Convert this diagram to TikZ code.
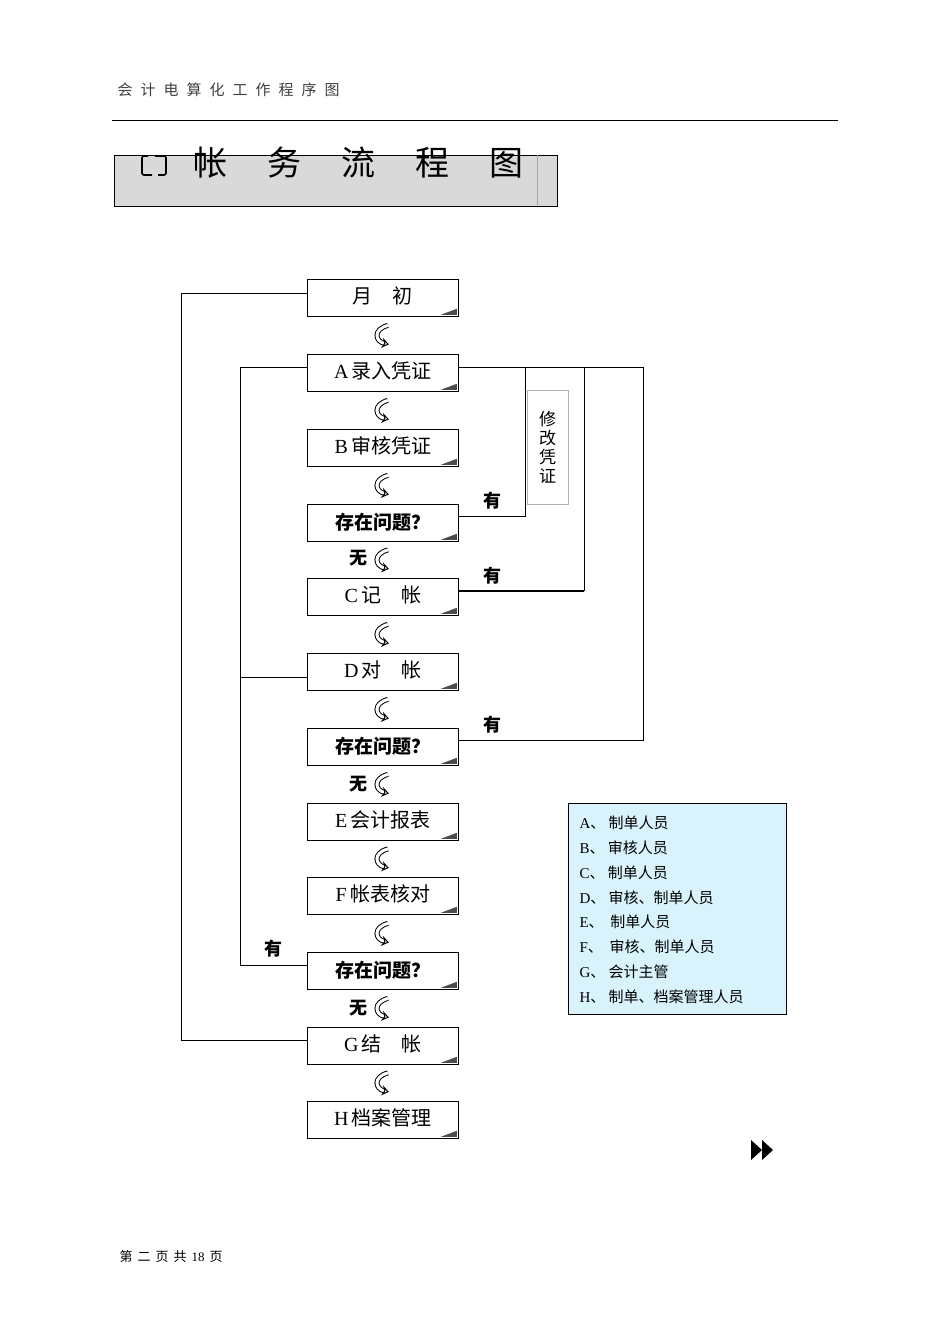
\documentclass[tikz,border=0pt]{standalone}
\usepackage{fontspec}
\setmainfont{Liberation Serif}
\newfontfamily\cjk{Noto Sans CJK SC}
\usetikzlibrary{arrows.meta}
\begin{document}
\begin{tikzpicture}[x=1pt,y=-1pt,
  box/.style={draw,thick,minimum width=151pt,minimum height=37pt,inner sep=0pt,anchor=north west},
  lab/.style={font=\cjk\bfseries\fontsize{18}{18}\selectfont},
  leg/.style={font=\cjk\fontsize{15}{15}\selectfont,anchor=west}]
\useasboundingbox (0,0) rectangle (950,1344);
\node[anchor=west,font=\cjk\fontsize{15}{15}\selectfont,text=black!75] (hdr) at (114,90) {会\hspace{8pt}计\hspace{8pt}电\hspace{8pt}算\hspace{8pt}化\hspace{8pt}工\hspace{8pt}作\hspace{8pt}程\hspace{8pt}序\hspace{8pt}图};
\draw (112,120) -- (838,120);
\node[draw,fill=black!15,minimum width=443pt,minimum height=51pt,anchor=north west] (tb) at (114,155) {};
\draw[black!35] (537,155) -- (537,206);
\draw[line width=1.6pt,rounded corners=2pt] (148,156) -- (142,156) -- (142,175) -- (152,175);
\draw[line width=1.6pt,rounded corners=2pt] (158,175) -- (166,175) -- (166,156) -- (155,156);
\node[anchor=west,font=\cjk\fontsize{34}{34}\selectfont] (tt) at (190,163) {帐\hspace{40pt}务\hspace{40pt}流\hspace{40pt}程\hspace{40pt}图};
% nodes
\foreach \n/\y/\t/\f in {m/279/{月\quad 初}/0, a/354/{{\rmfamily A}\,录入凭证}/0, b/429/{{\rmfamily B}\,审核凭证}/0, q1/504/{存在问题？}/1, c/578/{{\rmfamily C}\,记\quad 帐}/0, d/653/{{\rmfamily D}\,对\quad 帐}/0, q2/728/{存在问题？}/1, e/803/{{\rmfamily E}\,会计报表}/0, f/877/{{\rmfamily F}\,帐表核对}/0, q3/952/{存在问题？}/1, g/1027/{{\rmfamily G}\,结\quad 帐}/0, h/1101/{{\rmfamily H}\,档案管理}/0}{
  \ifnum\f=1
   \node[box,font=\cjk\bfseries\fontsize{19}{19}\selectfont] (\n) at (307,\y) {\raisebox{4pt}{\t}};
  \else
   \node[box,font=\cjk\fontsize{20}{20}\selectfont] (\n) at (307,\y) {\raisebox{5pt}{\t}};
  \fi
  \fill[black!70] ([shift={(-18,-2)}]\n.south east) -- ([shift={(-2,-8)}]\n.south east) -- ([shift={(-2,-2)}]\n.south east) -- cycle;
}
% curved arrows
\foreach \u/\v in {m/a,a/b,b/q1,q1/c,c/d,d/q2,q2/e,e/f,f/q3,q3/g,g/h}{
  \path (\u.south) -- (\v.north) coordinate[pos=0.5] (mid\u);
  \draw[double,double distance=3pt,line width=1pt,-{Stealth[open,length=7pt,width=10pt]}] ([shift={(5,-10)}]mid\u) .. controls ([shift={(-10,-6)}]mid\u) and ([shift={(-8,6)}]mid\u) .. ([shift={(6,9)}]mid\u);
}
\node[lab] (w1) at (358,558) {无};
\node[lab] (w2) at (358,784) {无};
\node[lab] (w3) at (358,1008) {无};
% connectors
\coordinate (o1) at (181,293);
\coordinate (o2) at (181,1040);
\draw (m.west |- o1) -- (o1) -- (o2) -- (g.west |- o2);
\coordinate (l1) at (240,367);
\coordinate (l2) at (240,965);
\coordinate (l3) at (240,677);
\draw (a.west |- l1) -- (l1) -- (l2) -- (q3.west |- l2);
\draw (l3) -- (d.west |- l3);
\coordinate (r1) at (643,367);
\coordinate (r2) at (643,740);
\draw (a.east |- r1) -- (r1) -- (r2) -- (q2.east |- r2);
\coordinate (r3) at (584,367);
\coordinate (r4) at (584,591);
\draw (r3) -- (r4);
\draw[line width=1.5pt] (r4) -- (c.east |- r4);
\coordinate (r5) at (525,367);
\coordinate (r6) at (525,516);
\draw (r5) -- (r6) -- (q1.east |- r6);
\node[draw=black!30,minimum width=41pt,minimum height=114pt,anchor=north west,inner sep=0pt] (xg) at (527,390) {};
\node[font=\cjk\fontsize{17}{19}\selectfont,align=center] at (xg) {修\\改\\凭\\证};
\node[lab] (y1) at (492,501) {有};
\node[lab] (y2) at (492,576) {有};
\node[lab] (y3) at (492,725) {有};
\node[lab] (y4) at (273,949) {有};
% legend
\node[draw,thick,fill=cyan!15,minimum width=218pt,minimum height=211pt,anchor=north west] (lg) at (568,803) {};
\foreach \i/\t in {0/{{\rmfamily A}、\ 制单人员},1/{{\rmfamily B}、\ 审核人员},2/{{\rmfamily C}、\ 制单人员},3/{{\rmfamily D}、\ 审核、制单人员},4/{{\rmfamily E}、\ \ 制单人员},5/{{\rmfamily F}、\ \ 审核、制单人员},6/{{\rmfamily G}、\ 会计主管},7/{{\rmfamily H}、\ 制单、档案管理人员}}{
  \node[leg] at (576,{823+24.8*\i}) {\t};
}
\fill (751,1140) -- (762,1150) -- (751,1160) -- cycle;
\fill (762,1140) -- (773,1150) -- (762,1160) -- cycle;
\node[anchor=west,font=\cjk\fontsize{13}{13}\selectfont] (ft) at (116,1257) {第\hspace{5pt}二\hspace{5pt}页\hspace{5pt}共\hspace{5pt}{\rmfamily 18}\hspace{5pt}页};
\end{tikzpicture}
\end{document}
